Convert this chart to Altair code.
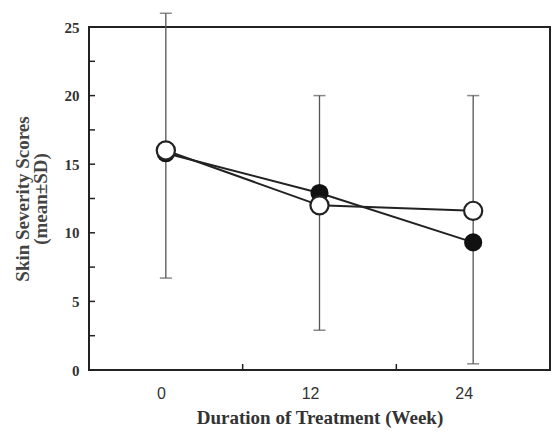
import altair as alt
import pandas as pd

weeks = ["0", "12", "24"]
open_mean = [16.0, 12.0, 11.6]
filled_mean = [15.8, 12.9, 9.3]
sd_low = [6.7, 2.9, 0.45]
sd_high = [26.0, 20.0, 20.0]
y_major = [0, 5, 10, 15, 20, 25]
y_minor = [2.5, 7.5, 12.5, 17.5, 22.5]
x_bounds = ["12", "24"]

df_open = pd.DataFrame({"week": weeks, "v": open_mean})
df_filled = pd.DataFrame({"week": weeks, "v": filled_mean})
df_err = pd.DataFrame({"week": weeks, "lo": sd_low, "hi": sd_high})
df_yt = pd.DataFrame({"t": y_major + y_minor})
df_xt = pd.DataFrame({"week": x_bounds})

H = 343
xscale = alt.Scale(domain=weeks, paddingInner=0, paddingOuter=0)
yscale = alt.Scale(domain=[0, 25], nice=False)

X = alt.X(
    "week:N", scale=xscale, sort=weeks,
    axis=alt.Axis(
        title="Duration of Treatment (Week)", labelAngle=0, ticks=False, domain=False,
        grid=False, labelFont="Liberation Sans", labelFontSize=16, labelColor="#333",
        labelPadding=23, titleFont="Liberation Serif", titleFontSize=19,
        titleFontWeight="bold", titleColor="#333", titlePadding=7,
    ),
)
Y = alt.Y(
    "v:Q", scale=yscale,
    axis=alt.Axis(
        values=y_major, title=["Skin Severity Scores", "(mean±SD)"], ticks=False,
        domain=False, grid=False, labelFont="Liberation Serif", labelFontSize=15,
        labelFontWeight="bold", labelColor="#333", labelPadding=10,
        titleFont="Liberation Serif", titleFontSize=19, titleFontWeight="bold",
        titleColor="#444", titlePadding=14, titleLineHeight=18,
    ),
)

err = alt.Chart(df_err).mark_rule(color="#555", strokeWidth=1.3).encode(
    x=alt.X("week:N", scale=xscale, sort=weeks), y=alt.Y("lo:Q", scale=yscale), y2="hi:Q"
)
cap_hi = alt.Chart(df_err).mark_tick(color="#555", size=12, thickness=1.5).encode(
    x=alt.X("week:N", scale=xscale, sort=weeks), y=alt.Y("hi:Q", scale=yscale)
)
cap_lo = alt.Chart(df_err).mark_tick(color="#555", size=12, thickness=1.5).encode(
    x=alt.X("week:N", scale=xscale, sort=weeks), y=alt.Y("lo:Q", scale=yscale)
)
yticks = alt.Chart(df_yt).mark_rule(color="#222", strokeWidth=1.5).encode(
    y=alt.Y("t:Q", scale=yscale), x=alt.value(0), x2=alt.value(6)
)
xticks = alt.Chart(df_xt).mark_rule(color="#222", strokeWidth=1.5).encode(
    x=alt.X("week:N", scale=xscale, sort=weeks, bandPosition=0),
    y=alt.value(H), y2=alt.value(H - 6),
)
line_f = alt.Chart(df_filled).mark_line(color="#222", strokeWidth=2).encode(x=X, y=Y)
line_o = alt.Chart(df_open).mark_line(color="#222", strokeWidth=2).encode(x=X, y=Y)
pts_f = alt.Chart(df_filled).mark_circle(color="#111", size=330, opacity=1).encode(x=X, y=Y)
pts_o = alt.Chart(df_open).mark_circle(
    color="white", stroke="#222", strokeWidth=2.2, size=330, opacity=1
).encode(x=X, y=Y)

chart = (
    alt.layer(err, cap_hi, cap_lo, yticks, xticks, line_f, line_o, pts_f, pts_o)
    .properties(
        width=461, height=H,
        padding={"left": 81, "top": 19, "right": 1, "bottom": 60},
        autosize=alt.AutoSizeParams(type="none"),
        background="white",
    )
    .configure_view(stroke="#222", strokeWidth=2)
)

chart.save("out.html", embed_options={"renderer": "svg", "actions": False})
